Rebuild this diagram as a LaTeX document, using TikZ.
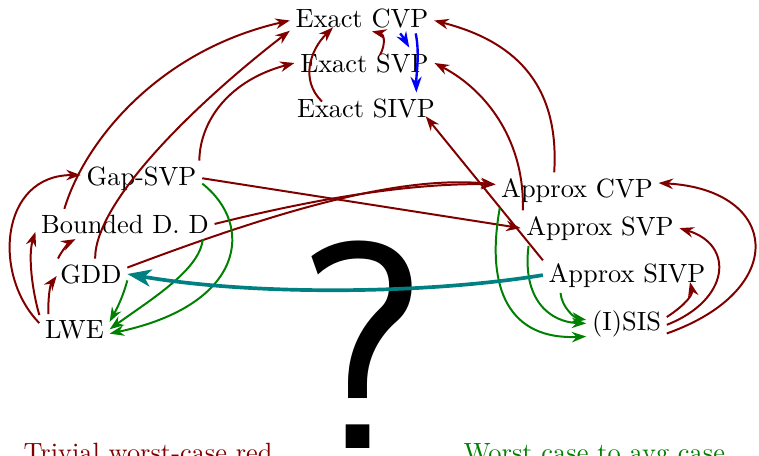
\documentclass[tikz,border=0pt]{standalone}
\usetikzlibrary{arrows.meta,calc}
\definecolor{dred}{RGB}{128,0,0}
\definecolor{dgreen}{RGB}{0,128,0}
\definecolor{dteal}{RGB}{0,128,128}
\begin{document}
\begin{tikzpicture}[x=0.3788pt,y=-0.3788pt,
  lbl/.style={anchor=base, inner sep=2pt},
  rarr/.style={draw=dred, line width=0.75pt, -{Stealth[length=5.5pt,width=4pt,inset=1.8pt]}},
  garr/.style={draw=dgreen, line width=0.75pt, -{Stealth[length=5.5pt,width=4pt,inset=1.8pt]}},
  barr/.style={draw=blue, line width=0.9pt, -{Stealth[length=6pt,width=4.2pt,inset=2pt]}},
  tarr/.style={draw=dteal, line width=1.4pt, -{Stealth[length=9pt,width=6.5pt,inset=2.5pt]}}]
\useasboundingbox (0,0) rectangle (759,455);

\node[anchor=base, inner sep=0pt] (qm) at (362,448) {\fontsize{112}{112}\selectfont\sffamily ?};

\node[lbl] (ecvp) at (362,27) {Exact CVP};
\node[lbl] (esvp) at (364.5,72) {Exact SVP};
\node[lbl] (esivp) at (366,117) {Exact SIVP};
\node[lbl] (gap) at (141.5,185) {Gap-SVP};
\node[lbl] (bdd) at (125,233) {Bounded D. D};
\node[lbl] (gdd) at (91,283) {GDD};
\node[lbl] (lwe) at (74.5,338) {LWE};
\node[lbl] (acvp) at (577,197) {Approx CVP};
\node[lbl] (asvp) at (600,235) {Approx SVP};
\node[lbl] (asivp) at (627,282) {Approx SIVP};
\node[lbl] (isis) at (626.5,330) {(I)SIS};
\node[anchor=base west, inner sep=0pt, text=dred] (t1) at (23,461) {Trivial worst-case red};
\node[anchor=base west, inner sep=0pt, text=dgreen] (t2) at (463,461) {Worst case to avg case};

% red, left side
\draw[rarr] (lwe.170) .. controls (-8,275) and (0,175) .. (gap.177);
\draw[rarr] (lwe.158) .. controls (32,290) and (28,255) .. (bdd.185);
\draw[rarr] (lwe.150) .. controls (48,298) and (50,285) .. ([shift={(2,2)}]gdd.west);
\draw[rarr] (gdd.155) .. controls (62,250) and (70,242) .. (bdd.197);
\draw[rarr] (gdd.75) .. controls (95,200) and (200,100) .. (ecvp.190);
\draw[rarr] (bdd.166) .. controls (85,140) and (160,50) .. (ecvp.182);
\draw[rarr] (gap.17) .. controls (200,120) and (230,80) .. (esvp.west);
% red, top
\draw[rarr] ([shift={(-44,9)}]esivp.north) .. controls (300,80) and (310,50) .. ([shift={(-29,-6)}]ecvp.south);
\draw[rarr] ([shift={(15.5,-17)}]esvp.base) .. controls (386,44) and (384,34) .. ([shift={(10,-2)}]ecvp.south);
% red, right side
\draw[rarr] (acvp.142) .. controls (560,80) and (510,40) .. (ecvp.358);
\draw[rarr] (asvp.167) .. controls (525,145) and (490,92) .. (esvp.east);
\draw[rarr] (asivp.170) -- ([shift={(-15,-7)}]esivp.south east);
\draw[rarr] (gap.east) -- (asvp.west);
\draw[rarr] (bdd.east) .. controls (330,195) and (420,183) .. (acvp.176);
\draw[rarr] (gdd.10) .. controls (280,210) and (400,175) .. (acvp.176);
\draw[rarr] (isis.9) .. controls (685,305) and (693,295) .. ([shift={(63,0)}]asivp.base);
\draw[rarr] (isis.358) .. controls (730,300) and (735,245) .. (asvp.east);
\draw[rarr] (isis.346) .. controls (790,290) and (780,190) .. (acvp.5);

% blue
\draw[barr] (ecvp.338) .. controls (404,38) and (406,42) .. (esvp.19);
\draw[barr] (ecvp.344) .. controls (420,55) and (416,75) .. (esivp.17);

% green
\draw[garr] (gap.355) .. controls (255,225) and (245,305) .. (lwe.353);
\draw[garr] (bdd.349) .. controls (200,270) and (150,300) .. (lwe.east);
\draw[garr] (gdd.350) .. controls (122,300) and (115,312) .. (lwe.12);
\draw[garr] (acvp.193) .. controls (485,290) and (510,340) .. (isis.198);
\draw[garr] (asvp.194) .. controls (522,300) and (550,322) .. (isis.west);
\draw[garr] (asivp.195) .. controls (562,308) and (575,318) .. (isis.175);

% teal
\draw[tarr] (asivp.west) .. controls (420,295) and (250,295) .. (gdd.east);
\end{tikzpicture}
\end{document}
